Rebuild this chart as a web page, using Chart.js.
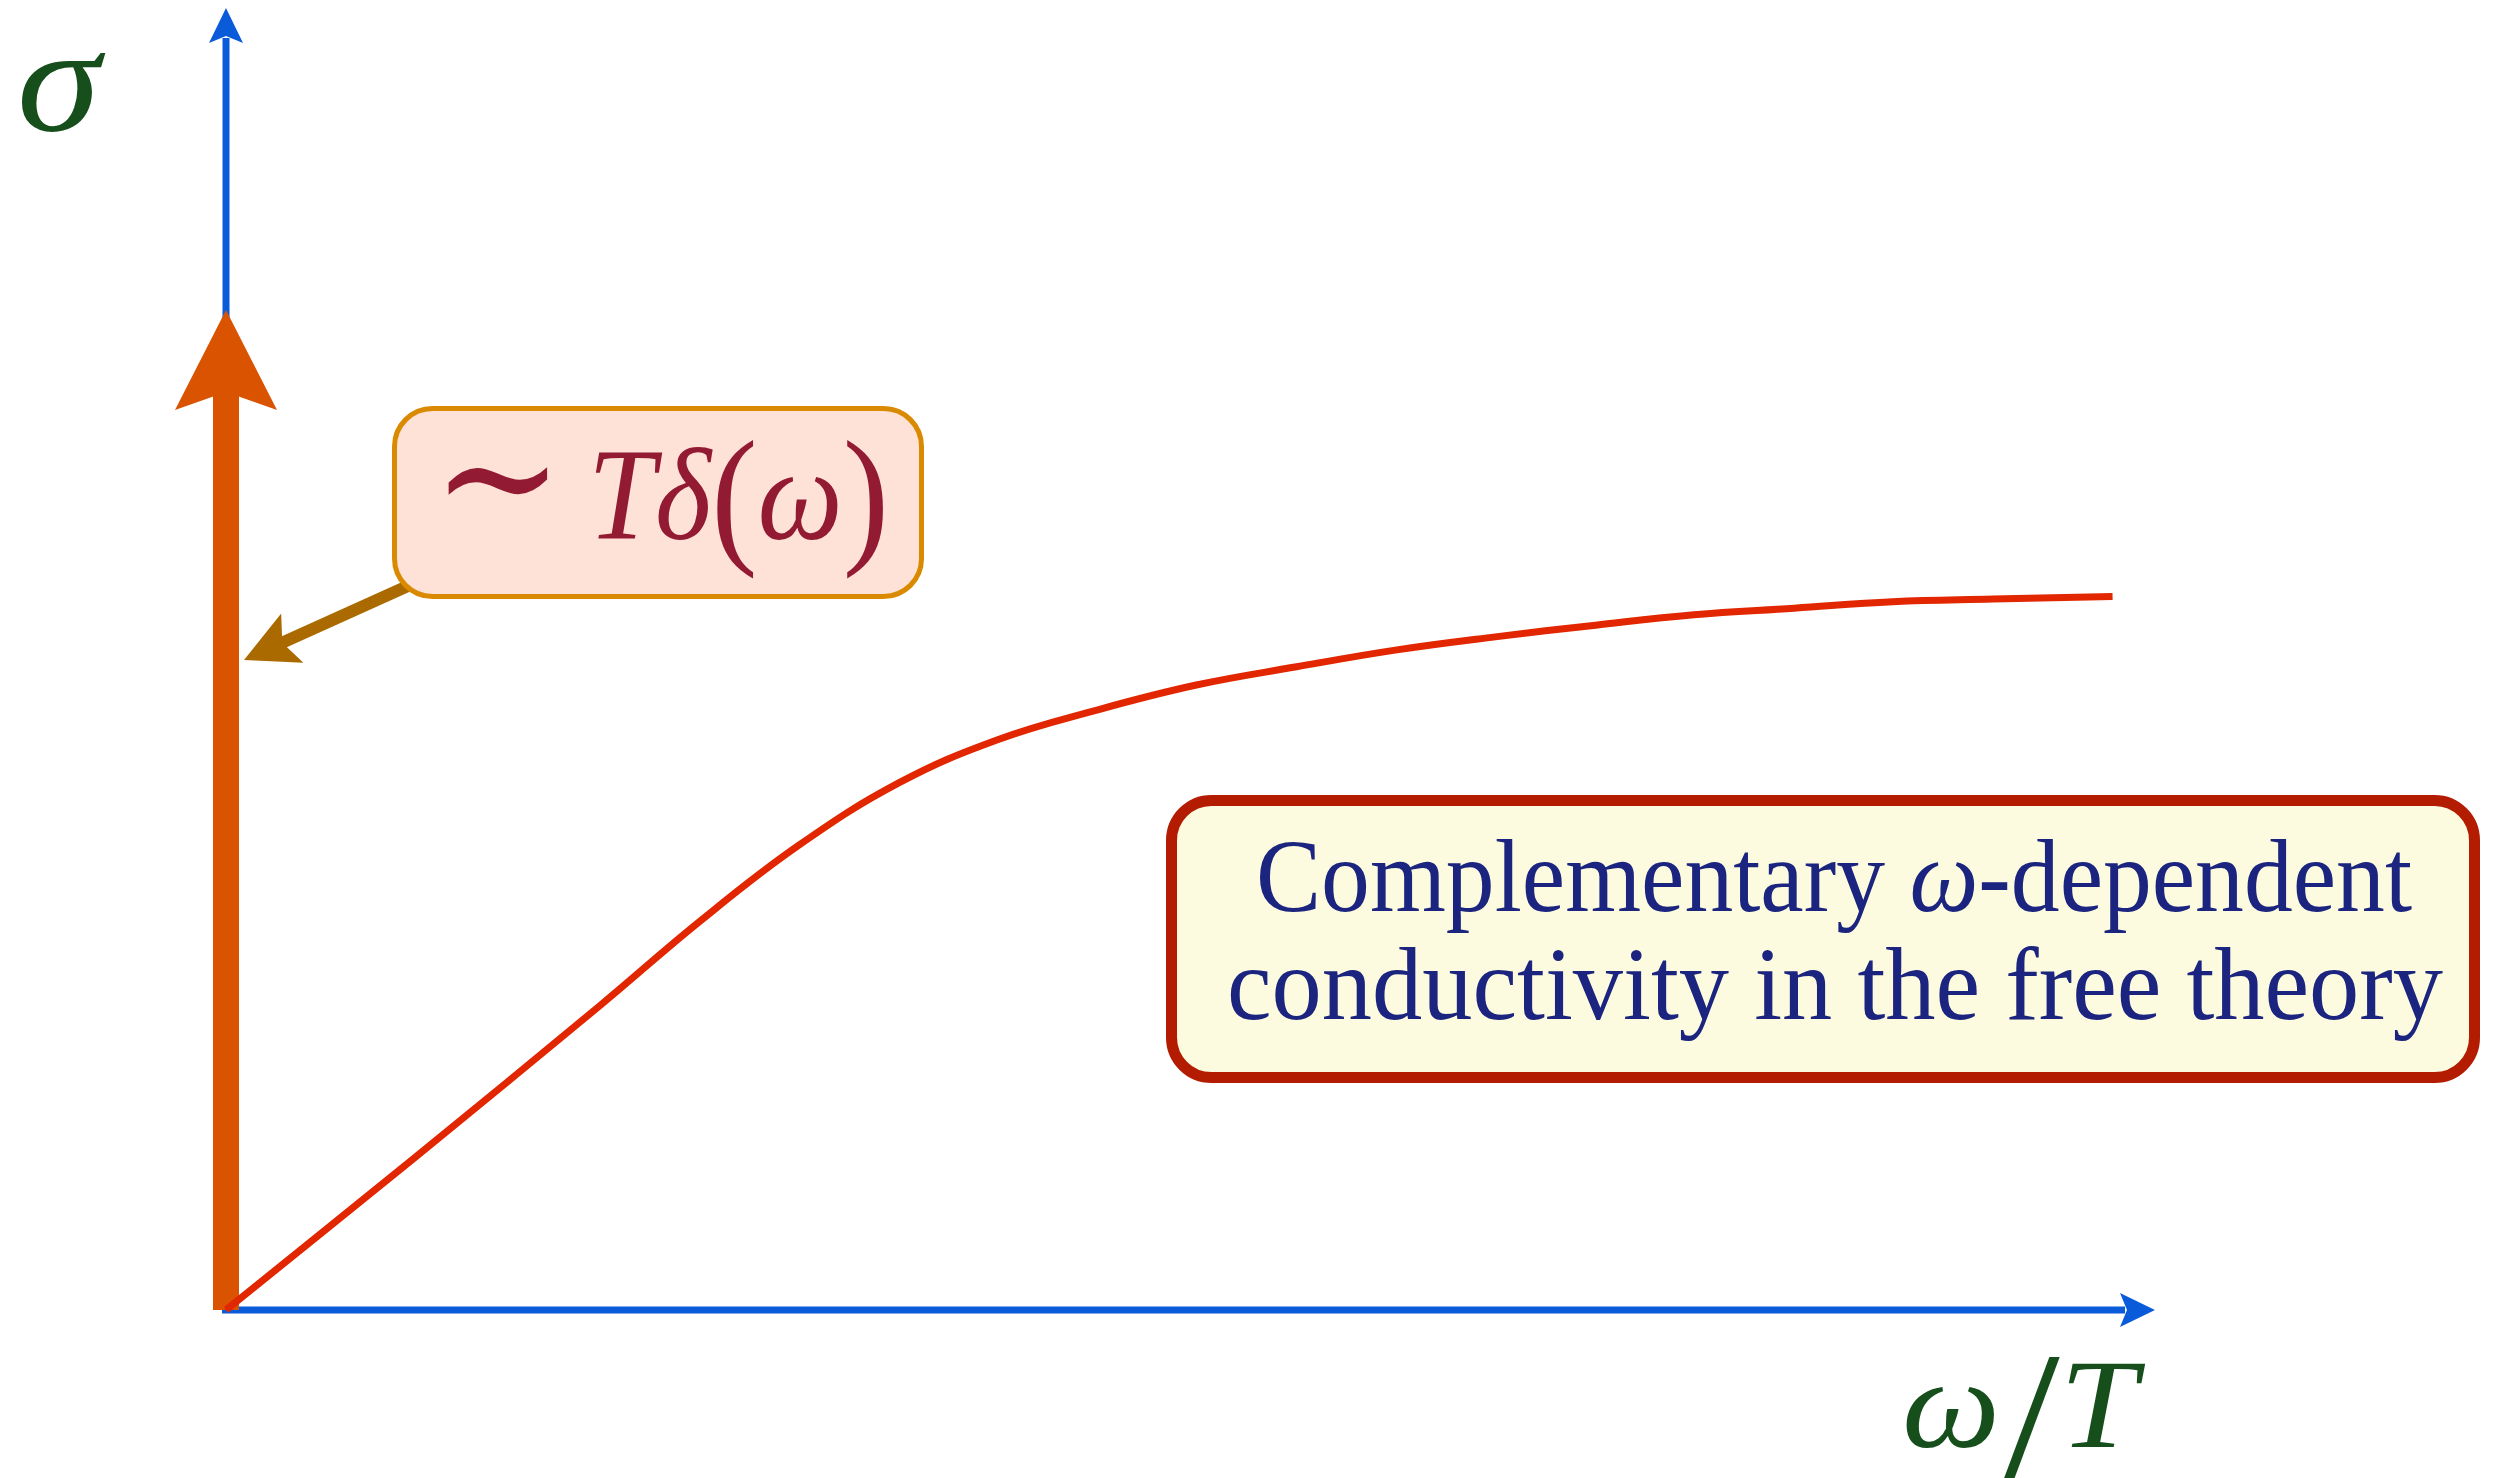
<!DOCTYPE html>
<html>
<head>
<meta charset="utf-8">
<title>Free theory conductivity</title>
<script src="https://cdn.jsdelivr.net/npm/chart.js@4.4.1/dist/chart.umd.min.js"></script>
<style>
  html, body { margin: 0; padding: 0; background: #ffffff; }
  canvas { display: block; }
</style>
</head>
<body>
<canvas id="sigmaChart" width="2498" height="1478"></canvas>
<script>
// omega/T and sigma in arbitrary units, both axes run 0..10
const omegaValues = [0, 0.97, 1.94, 2.46, 2.97, 3.49, 4.00, 4.52, 5.03, 5.55, 6.07, 6.58, 7.10, 7.61, 8.13, 8.64, 9.16, 9.78];
const sigmaValues = [0, 1.16, 2.34, 2.99, 3.57, 4.05, 4.38, 4.61, 4.80, 4.94, 5.07, 5.17, 5.26, 5.34, 5.39, 5.44, 5.46, 5.48];

// height of the delta peak drawn at omega = 0
const deltaPeak = 7.68;

// text runs: it = italic (math) part, s = size factor, dy = baseline shift
const xAxisLabel = [{ t: "ω", it: true }, { t: "/", it: false, s: 1.55, dy: 40 }, { t: "T", it: true }];
const yAxisLabel = [{ t: "σ", it: true }];
const peakLabel = [
  { t: "∼", it: false, s: 1.3, dy: -4 }, { t: " ", it: false, s: 0.8 }, { t: "Tδ", it: true },
  { t: "(", it: false, s: 1.15, dy: 7 }, { t: "ω", it: true }, { t: ")", it: false, s: 1.15, dy: 7 }
];
const noteLines = [
  [{ t: "Complementary ", it: false }, { t: "ω", it: true }, { t: "-dependent", it: false }],
  [{ t: "conductivity in the free theory", it: false }]
];

const colors = {
  axis: "#0A5BDA",
  curve: "#E12600",
  delta: "#D95300",
  pointer: "#AA6A00",
  label: "#164F1B",
  peakFill: "#FEE1D7",
  peakEdge: "#D98A00",
  peakText: "#931A33",
  noteFill: "#FDFBDF",
  noteEdge: "#B31C00",
  noteText: "#1B247E"
};

function serif(size, italic) {
  return (italic ? "italic " : "") + size + 'px "Liberation Serif", "DejaVu Serif", serif';
}

// draws runs of text stretched horizontally to a given width
function drawRuns(ctx, runs, x, baseline, size, width, color) {
  const runFont = r => serif(Math.round(size * (r.s || 1)), r.it);
  let natural = 0;
  runs.forEach(r => { ctx.font = runFont(r); natural += ctx.measureText(r.t).width; });
  ctx.save();
  ctx.translate(x, baseline);
  ctx.scale(width / natural, 1);
  ctx.fillStyle = color;
  ctx.textAlign = "left";
  ctx.textBaseline = "alphabetic";
  let cx = 0;
  runs.forEach(r => {
    ctx.font = runFont(r);
    ctx.fillText(r.t, cx, r.dy || 0);
    cx += ctx.measureText(r.t).width;
  });
  ctx.restore();
}

// stealth style arrow head, angle = direction it points
function arrowHead(ctx, x, y, angle, len, halfW, notch, color) {
  ctx.save();
  ctx.translate(x, y);
  ctx.rotate(angle);
  ctx.beginPath();
  ctx.moveTo(0, 0);
  ctx.lineTo(-len, -halfW);
  ctx.lineTo(-len + notch, 0);
  ctx.lineTo(-len, halfW);
  ctx.closePath();
  ctx.fillStyle = color;
  ctx.fill();
  ctx.restore();
}

function roundBox(ctx, x, y, w, h, r, fill, edge, lw) {
  ctx.save();
  ctx.beginPath();
  ctx.moveTo(x + r, y);
  ctx.lineTo(x + w - r, y);
  ctx.arcTo(x + w, y, x + w, y + r, r);
  ctx.lineTo(x + w, y + h - r);
  ctx.arcTo(x + w, y + h, x + w - r, y + h, r);
  ctx.lineTo(x + r, y + h);
  ctx.arcTo(x, y + h, x, y + h - r, r);
  ctx.lineTo(x, y + r);
  ctx.arcTo(x, y, x + r, y, r);
  ctx.closePath();
  ctx.fillStyle = fill;
  ctx.fill();
  ctx.lineWidth = lw;
  ctx.strokeStyle = edge;
  ctx.stroke();
  ctx.restore();
}

// axes with arrows and the delta peak, under the curve
const axesPlugin = {
  id: "axesPlugin",
  beforeDatasetsDraw(chart) {
    const { ctx, scales: { x, y } } = chart;
    const x0 = x.getPixelForValue(0), y0 = y.getPixelForValue(0);
    const xEnd = x.getPixelForValue(10), yEnd = y.getPixelForValue(10);

    ctx.save();
    ctx.strokeStyle = colors.axis;
    ctx.lineWidth = 7;
    ctx.beginPath();
    ctx.moveTo(x0, y0 + 3);
    ctx.lineTo(x0, yEnd + 30);
    ctx.moveTo(x0 - 4, y0);
    ctx.lineTo(xEnd - 30, y0);
    ctx.stroke();
    ctx.restore();
    arrowHead(ctx, x0, yEnd, -Math.PI / 2, 35, 17, 7, colors.axis);
    arrowHead(ctx, xEnd, y0, 0, 35, 17, 7, colors.axis);

    // delta peak
    const yPeak = y.getPixelForValue(deltaPeak);
    ctx.save();
    ctx.fillStyle = colors.delta;
    ctx.fillRect(x0 - 13, yPeak + 80, 26, y0 - yPeak - 80);
    ctx.restore();
    arrowHead(ctx, x0, yPeak, -Math.PI / 2, 100, 51, 18, colors.delta);
  },
  afterDatasetsDraw(chart) {
    const { ctx, scales: { x } } = chart;
    const x0 = x.getPixelForValue(0);

    // pointer from the peak label to the delta peak
    const tip = { x: x0 + 18, y: 660 };
    const tail = { x: 430, y: 576 };
    const ang = Math.atan2(tip.y - tail.y, tip.x - tail.x);
    ctx.save();
    ctx.strokeStyle = colors.pointer;
    ctx.lineWidth = 12;
    ctx.beginPath();
    ctx.moveTo(tail.x, tail.y);
    ctx.lineTo(tip.x - Math.cos(ang) * 40, tip.y - Math.sin(ang) * 40);
    ctx.stroke();
    ctx.restore();
    arrowHead(ctx, tip.x, tip.y, ang, 53, 27, 11, colors.pointer);

    roundBox(ctx, 394.5, 408.5, 527, 188, 38, colors.peakFill, colors.peakEdge, 5);
    drawRuns(ctx, peakLabel, 432, 539, 132, 457, colors.peakText);

    roundBox(ctx, 1171.5, 800.5, 1303, 277, 40, colors.noteFill, colors.noteEdge, 11);
    drawRuns(ctx, noteLines[0], 1256, 911, 104, 1156, colors.noteText);
    drawRuns(ctx, noteLines[1], 1227, 1019, 104, 1216, colors.noteText);

    drawRuns(ctx, yAxisLabel, 17, 131, 150, 83, colors.label);
    drawRuns(ctx, xAxisLabel, 1902, 1447, 128, 235, colors.label);
  }
};

new Chart(document.getElementById("sigmaChart").getContext("2d"), {
  type: "line",
  data: {
    datasets: [{
      data: omegaValues.map((w, i) => ({ x: w, y: sigmaValues[i] })),
      borderColor: colors.curve,
      borderWidth: 7,
      pointRadius: 0,
      tension: 0.4,
      fill: false,
      clip: false
    }]
  },
  options: {
    responsive: false,
    animation: false,
    devicePixelRatio: 1,
    layout: { padding: { left: 226, right: 343, top: 8, bottom: 168 } },
    scales: {
      x: { type: "linear", min: 0, max: 10, display: false },
      y: { type: "linear", min: 0, max: 10, display: false }
    },
    plugins: { legend: { display: false }, tooltip: { enabled: false } }
  },
  plugins: [axesPlugin]
});
</script>
</body>
</html>
